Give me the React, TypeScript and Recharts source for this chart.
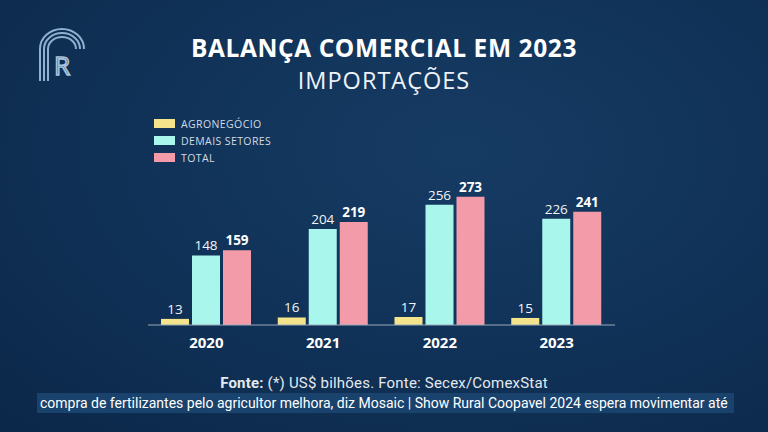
import React from 'react';
import { BarChart, Bar, XAxis, YAxis, LabelList } from 'recharts';

const years = ['2020', '2021', '2022', '2023'];
const agronegocio = [13, 16, 17, 15];
const demaisSetores = [148, 204, 256, 226];
const total = [159, 219, 273, 241];

const seriesNames = ['AGRONEGÓCIO', 'DEMAIS SETORES', 'TOTAL'];
const seriesColors = ['#f3e48c', '#a9f7ec', '#f39ba9'];

const data = years.map((y, i) => ({
  year: y,
  agro: agronegocio[i],
  demais: demaisSetores[i],
  total: total[i],
}));

const FONT = '"Open Sans", "DejaVu Sans", sans-serif';

// legend drawn outside the chart so it doesn't eat the plot margin
const LegendBox = () => (
  <div style={{ position: 'absolute', left: 154, top: 115 }}>
    {seriesNames.map((name, i) => (
      <div key={name} style={{ display: 'flex', alignItems: 'center', height: 17 }}>
        <span style={{ width: 21, height: 9, background: seriesColors[i], display: 'inline-block', marginRight: 6 }} />
        <span style={{ color: '#d3dbe4', fontSize: 10.5, letterSpacing: 0.4 }}>{name}</span>
      </div>
    ))}
  </div>
);

const Logo = () => (
  <svg width="52" height="58" viewBox="0 0 52 58" style={{ position: 'absolute', left: 36, top: 25 }}>
    {[0, 4, 8].map((o) => (
      <path
        key={o}
        d={`M ${4 + o} 56 L ${4 + o} 24 A ${22 - o} ${20 - o} 0 0 1 ${48 - o} 24`}
        fill="none"
        stroke="#8fb0cf"
        strokeWidth="2"
      />
    ))}
    <text x="26" y="50" textAnchor="middle" fontFamily={FONT} fontSize="26" fill="none" stroke="#a9c3dc" strokeWidth="1.6">R</text>
  </svg>
);

export default function App() {
  return (
    <div
      style={{
        position: 'absolute',
        left: 0,
        top: 0,
        width: 768,
        height: 432,
        overflow: 'hidden',
        background: 'radial-gradient(ellipse at 60% 35%, #163b63 0%, #113359 45%, #0b2749 100%)',
        fontFamily: FONT,
      }}
    >
      <Logo />
      <div style={{ position: 'absolute', top: 35, width: 768, textAlign: 'center', color: '#ffffff', fontSize: 24.5, lineHeight: '26px', fontWeight: 700, letterSpacing: 0.6 }}>
        BALANÇA COMERCIAL EM 2023
      </div>
      <div style={{ position: 'absolute', top: 68, width: 768, textAlign: 'center', color: '#eef2f6', fontSize: 23.5, lineHeight: '24px', fontWeight: 400, letterSpacing: 1 }}>
        IMPORTAÇÕES
      </div>

      <LegendBox />

      <div style={{ position: 'absolute', left: 0, top: 0 }}>
        <BarChart
          width={768}
          height={432}
          data={data}
          margin={{ top: 184, right: 153, bottom: 77, left: 148 }}
          barSize={28}
          barGap={3}
          barCategoryGap={13}
        >
          <XAxis
            dataKey="year"
            axisLine={{ stroke: '#9aa9bb', strokeWidth: 1 }}
            tickLine={false}
            tick={{ fill: '#ffffff', fontSize: 15, fontWeight: 700, fontFamily: FONT }}
            tickMargin={6}
            height={30}
          />
          <YAxis hide domain={[0, 300]} />
          <Bar dataKey="agro" name={seriesNames[0]} fill={seriesColors[0]} isAnimationActive={false}>
            <LabelList dataKey="agro" position="top" offset={5} fill="#f2f4f7" fontSize={13.5} fontFamily={FONT} />
          </Bar>
          <Bar dataKey="demais" name={seriesNames[1]} fill={seriesColors[1]} isAnimationActive={false}>
            <LabelList dataKey="demais" position="top" offset={5} fill="#f2f4f7" fontSize={13.5} fontFamily={FONT} />
          </Bar>
          <Bar dataKey="total" name={seriesNames[2]} fill={seriesColors[2]} isAnimationActive={false}>
            <LabelList dataKey="total" position="top" offset={5} fill="#ffffff" fontSize={13.5} fontWeight={700} fontFamily={FONT} />
          </Bar>
        </BarChart>
      </div>

      <div style={{ position: 'absolute', top: 374, width: 768, textAlign: 'center', color: '#e4e9ef', fontSize: 15, lineHeight: '18px', letterSpacing: 0.2, fontFamily: '"Roboto", sans-serif' }}>
        <b>Fonte:</b> (*) US$ bilhões. Fonte: Secex/ComexStat
      </div>
      <div
        style={{
          position: 'absolute',
          left: 37,
          top: 393,
          width: 694,
          height: 20,
          background: '#19426d',
          color: '#ffffff',
          fontSize: 14,
          lineHeight: '20px',
          whiteSpace: 'nowrap',
          overflow: 'hidden',
          fontFamily: '"Liberation Sans Narrow", "Roboto", sans-serif',
          paddingLeft: 3,
        }}
      >
        compra de fertilizantes pelo agricultor melhora, diz Mosaic | Show Rural Coopavel 2024 espera movimentar até
      </div>
    </div>
  );
}
